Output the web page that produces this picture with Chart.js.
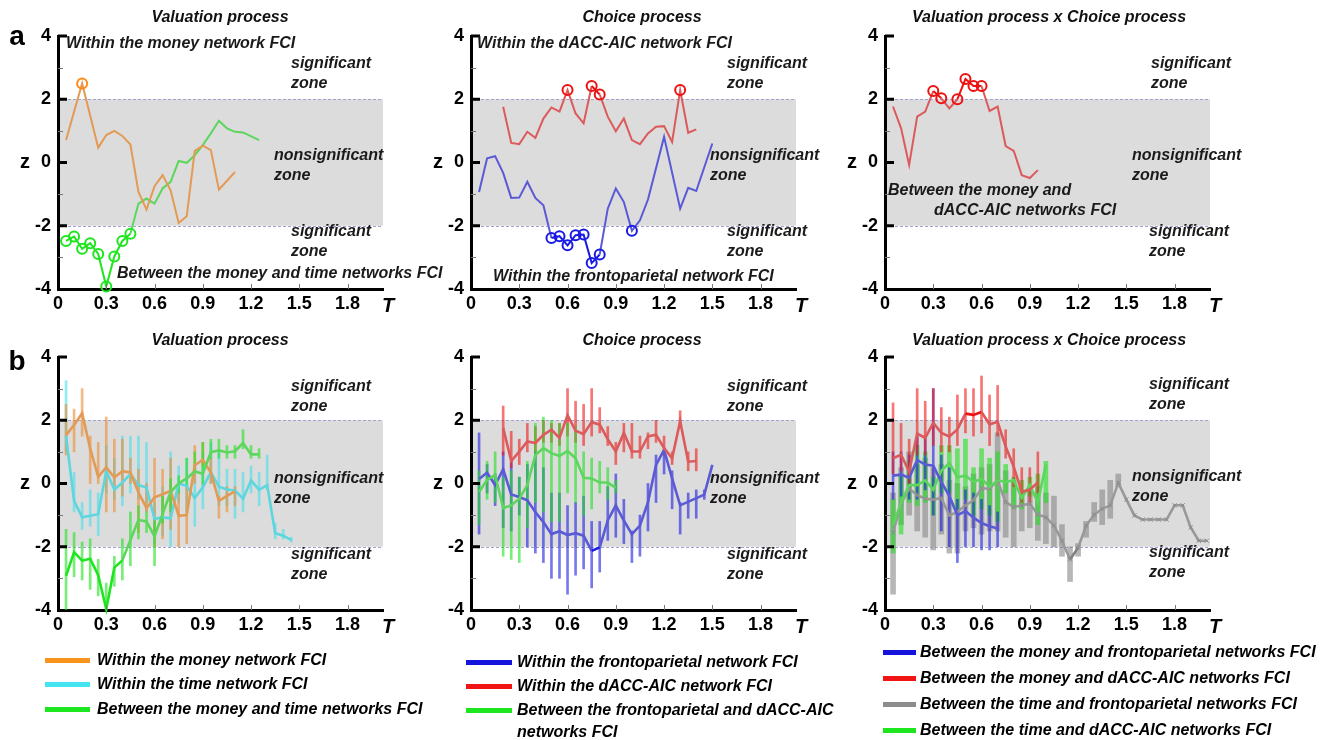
<!DOCTYPE html>
<html><head><meta charset="utf-8">
<script src="https://cdn.jsdelivr.net/npm/chart.js@4.4.1/dist/chart.umd.min.js"></script>
<style>
html,body{margin:0;padding:0;background:#fff}
body{width:1342px;height:740px;overflow:hidden;position:relative;font-family:"Liberation Sans",Arial,Helvetica,sans-serif}
canvas{position:absolute}
.lg{position:absolute;font:italic bold 16px "Liberation Sans",Arial,Helvetica,sans-serif;color:#000;white-space:nowrap;line-height:20px}
.sw{position:absolute;height:5px}
</style></head>
<body>
<canvas id="a1" width="480" height="329"></canvas>
<canvas id="a2" width="480" height="329"></canvas>
<canvas id="a3" width="480" height="329"></canvas>
<canvas id="b1" width="480" height="329"></canvas>
<canvas id="b2" width="480" height="329"></canvas>
<canvas id="b3" width="480" height="329"></canvas>

<div class="sw" style="left:45px;top:658px;width:45px;background:#f7941d"></div>
<div class="lg" style="left:97px;top:650px">Within the money network FCI</div>
<div class="sw" style="left:45px;top:682px;width:45px;background:#44e4f0"></div>
<div class="lg" style="left:97px;top:674px">Within the time network FCI</div>
<div class="sw" style="left:45px;top:707px;width:45px;background:#1ee61e"></div>
<div class="lg" style="left:97px;top:699px">Between the money and time networks FCI</div>

<div class="sw" style="left:466px;top:660px;width:46px;background:#1414dc"></div>
<div class="lg" style="left:517px;top:652px">Within the frontoparietal network FCI</div>
<div class="sw" style="left:466px;top:684px;width:46px;background:#f01414"></div>
<div class="lg" style="left:517px;top:676px">Within the dACC-AIC network FCI</div>
<div class="sw" style="left:466px;top:708px;width:46px;background:#1ee61e"></div>
<div class="lg" style="left:517px;top:700px">Between the frontoparietal and dACC-AIC</div>
<div class="lg" style="left:517px;top:722px">networks FCI</div>

<div class="sw" style="left:883px;top:650px;width:33px;background:#1414dc"></div>
<div class="lg" style="left:920px;top:642px">Between the money and frontoparietal networks FCI</div>
<div class="sw" style="left:883px;top:676px;width:33px;background:#f01414"></div>
<div class="lg" style="left:920px;top:668px">Between the money and dACC-AIC networks FCI</div>
<div class="sw" style="left:883px;top:702px;width:33px;background:#8c8c8c"></div>
<div class="lg" style="left:920px;top:694px">Between the time and frontoparietal networks FCI</div>
<div class="sw" style="left:883px;top:728px;width:33px;background:#1ee61e"></div>
<div class="lg" style="left:920px;top:720px">Between the time and dACC-AIC networks FCI</div>

<script>
// ---------- axis ticks ----------
const X_TICKS = [0, 0.3, 0.6, 0.9, 1.2, 1.5, 1.8];
const X_TICK_LABELS = ['0', '0.3', '0.6', '0.9', '1.2', '1.5', '1.8'];
const Y_TICKS = [-4, -2, 0, 2, 4];
const Y_TICK_LABELS = ['-4', '-2', '0', '2', '4'];
const X_MAX = 2.02;
const SIG = 1.96;

// ---------- row a, panel 1 (Valuation process) ----------
const a1T_money = [0.05,0.15,0.25,0.30,0.35,0.40,0.45,0.50,0.55,0.60,0.65,0.70,0.75,0.80,0.85,0.90,0.95,1.00,1.10];
const a1Z_money = [0.71,2.50,0.47,0.87,1.00,0.84,0.57,-0.93,-1.49,-0.75,-0.40,-0.88,-1.91,-1.70,0.37,0.53,0.39,-0.86,-0.30];
const a1T_moneyTime = [0.05,0.10,0.15,0.20,0.25,0.30,0.35,0.40,0.45,0.50,0.55,0.60,0.65,0.70,0.75,0.80,0.85,0.90,0.95,1.00,1.05,1.10,1.15,1.25];
const a1Z_moneyTime = [-2.48,-2.34,-2.73,-2.55,-2.89,-3.92,-2.97,-2.48,-2.25,-1.30,-1.14,-1.30,-0.82,-0.61,0.05,-0.01,0.23,0.55,0.92,1.32,1.08,0.97,0.95,0.71];

// ---------- row a, panel 2 (Choice process) ----------
const a2T_dacc = [0.20,0.25,0.30,0.35,0.40,0.45,0.50,0.55,0.60,0.65,0.70,0.75,0.80,0.85,0.90,0.95,1.00,1.05,1.10,1.15,1.20,1.25,1.30,1.35,1.40];
const a2Z_dacc = [1.76,0.62,0.58,0.97,0.78,1.39,1.74,1.61,2.29,1.55,1.24,2.42,2.15,1.45,0.99,1.39,0.71,0.58,0.92,1.13,1.15,0.65,2.29,0.94,1.05];
const a2T_fp = [0.05,0.10,0.15,0.20,0.25,0.30,0.35,0.40,0.45,0.50,0.55,0.60,0.65,0.70,0.75,0.80,0.85,0.90,0.95,1.00,1.05,1.10,1.20,1.30,1.35,1.40,1.50];
const a2Z_fp = [-0.93,0.13,0.20,-0.33,-1.12,-1.11,-0.61,-1.12,-1.35,-2.39,-2.33,-2.62,-2.30,-2.28,-3.18,-2.91,-1.46,-0.82,-1.25,-2.16,-1.83,-1.17,0.81,-1.46,-0.80,-0.90,0.60];

// ---------- row a, panel 3 (Valuation x Choice) ----------
const a3T_moneyDacc = [0.05,0.10,0.15,0.20,0.25,0.30,0.35,0.40,0.45,0.50,0.55,0.60,0.65,0.70,0.75,0.80,0.85,0.90,0.95];
const a3Z_moneyDacc = [1.77,1.08,-0.08,1.45,1.61,2.26,2.03,1.71,2.00,2.64,2.42,2.42,1.63,1.77,0.52,0.37,-0.40,-0.49,-0.24];

// ---------- row b, panel 1 ----------
const b1T_money = [0.05,0.10,0.15,0.20,0.25,0.30,0.35,0.40,0.45,0.50,0.55,0.60,0.65,0.70,0.75,0.80,0.85,0.90,0.95,1.00,1.05,1.10];
const b1Z_money = [1.53,1.85,2.22,1.10,0.21,0.51,0.19,0.39,0.35,-0.28,-0.78,-0.44,-0.34,-0.23,-1.02,-1.00,0.58,0.75,0.35,-0.55,-0.39,-0.25];
const b1Lo_money = [0.9,1.0,1.5,0.0,0.0,-0.9,-0.9,-0.4,0.0,-1.55,-0.9,-2.0,-1.75,-1.45,-2.0,-1.9,0.0,0.55,0.0,-1.1,-0.9,-0.7];
const b1Hi_money = [2.5,2.35,3.0,1.5,1.3,2.1,1.4,1.4,0.8,0.45,0.0,0.8,0.45,0.8,-0.2,-0.1,1.2,1.3,0.8,-0.4,-0.1,-0.1];

const b1T_time = [0.05,0.10,0.15,0.20,0.25,0.30,0.35,0.40,0.45,0.50,0.55,0.60,0.65,0.70,0.75,0.80,0.85,0.90,0.95,1.00,1.05,1.10,1.15,1.20,1.25,1.30,1.35,1.40,1.45];
const b1Z_time = [1.50,-0.55,-1.07,-1.02,-0.97,0.40,-0.19,0.03,0.30,-0.05,-0.13,-1.12,-1.07,-1.10,0.00,-0.08,-0.46,-0.12,0.36,-0.10,-0.19,-0.22,-0.48,0.10,-0.20,-0.05,-1.57,-1.65,-1.79];
const b1Lo_time = [1.0,-0.9,-1.45,-1.35,-1.65,-0.3,-0.5,-0.7,-0.3,-0.5,-0.9,-1.9,-1.65,-2.0,-0.6,-0.9,-1.35,-0.8,0.0,-0.7,-0.7,-1.1,-0.9,-0.3,-0.7,-0.2,-1.75,-1.75,-1.85];
const b1Hi_time = [3.25,0.35,-0.6,-0.2,-0.3,1.2,0.8,1.5,1.5,1.5,1.3,-0.6,-0.1,1.0,0.55,0.8,0.55,1.0,1.3,1.0,0.45,0.45,0.35,0.55,0.35,0.9,-1.25,-1.45,-1.7];

const b1T_moneyTime = [0.05,0.10,0.15,0.20,0.25,0.30,0.35,0.40,0.45,0.50,0.55,0.60,0.65,0.70,0.75,0.80,0.85,0.90,0.95,1.00,1.05,1.10,1.15,1.20,1.25];
const b1Z_moneyTime = [-2.92,-2.17,-2.44,-2.38,-2.90,-3.97,-2.66,-2.43,-1.79,-1.15,-1.20,-1.67,-0.97,-0.27,0.00,0.16,0.38,0.31,0.99,1.05,0.98,1.02,1.28,0.92,0.92];
const b1Lo_moneyTime = [-4.0,-2.95,-3.05,-3.35,-3.55,-4.0,-3.25,-3.05,-2.6,-1.75,-1.55,-2.6,-1.25,-0.9,-0.3,-0.05,0.35,-0.05,0.8,0.8,0.8,0.8,1.1,0.8,0.8];
const b1Hi_moneyTime = [-1.45,-1.55,-1.85,-1.75,-2.4,-3.15,-2.3,-1.75,-0.9,-0.7,-0.9,-1.1,-0.4,0.15,0.25,0.8,1.0,1.3,1.4,1.4,1.2,1.2,1.7,1.2,1.1];

// ---------- row b, panel 2 ----------
const b2T_dacc = [0.20,0.25,0.30,0.35,0.40,0.45,0.50,0.55,0.60,0.65,0.70,0.75,0.80,0.85,0.90,0.95,1.00,1.05,1.10,1.15,1.20,1.25,1.30,1.35,1.40];
const b2Z_dacc = [1.76,0.71,1.01,1.33,1.28,1.54,1.70,1.44,2.16,1.67,1.56,1.94,1.86,1.40,1.01,1.60,1.01,1.01,1.49,1.54,1.12,0.80,1.97,0.69,0.71];
const b2Lo_dacc = [0.9,0.5,0.6,1.0,1.0,1.3,1.3,1.2,1.5,1.3,1.2,1.5,1.6,1.2,0.6,1.0,0.8,0.8,1.1,1.3,0.9,0.6,1.8,0.4,0.4];
const b2Hi_dacc = [2.45,1.65,1.4,1.9,1.8,2.0,1.9,1.9,3.0,2.6,2.5,3.0,2.4,1.8,1.3,1.9,1.9,1.5,1.6,2.0,1.5,1.0,2.3,1.0,1.1];

const b2T_fp = [0.05,0.10,0.15,0.20,0.25,0.30,0.35,0.40,0.45,0.50,0.55,0.60,0.65,0.70,0.75,0.80,0.85,0.90,0.95,1.00,1.05,1.10,1.15,1.20,1.25,1.30,1.45,1.50];
const b2Z_fp = [0.14,0.34,-0.05,0.45,-0.35,-0.43,-0.53,-0.90,-1.22,-1.60,-1.51,-1.63,-1.57,-1.65,-2.13,-2.02,-1.17,-0.69,-1.17,-1.60,-1.33,-0.59,0.59,1.06,0.16,-0.69,-0.35,0.59];
const b2TR_fp = [0.05,0.10,0.15,0.20,0.25,0.30,0.35,0.40,0.45,0.50,0.55,0.60,0.65,0.70,0.75,0.80,0.85,0.90,0.95,1.00,1.05,1.10,1.15,1.20,1.25,1.30,1.35,1.40,1.45];
const b2Lo_fp = [-1.6,-0.3,-0.7,-1.4,-1.5,-1.0,-2.0,-2.2,-2.5,-3.0,-3.0,-3.5,-2.9,-2.7,-3.3,-2.8,-1.8,-1.7,-1.9,-2.5,-2.3,-1.5,-0.6,0.3,-0.8,-1.6,-1.1,-1.1,-0.5];
const b2Hi_fp = [1.6,0.6,0.3,1.0,0.7,0.2,0.6,1.0,0.5,-0.3,-0.3,-0.7,-0.6,-0.4,-1.2,-1.2,-0.1,0.3,-0.5,-1.5,-1.0,0.0,0.9,1.0,0.4,-0.6,-0.3,-0.2,-0.2];

const b2T_fpDacc = [0.05,0.10,0.15,0.20,0.25,0.30,0.35,0.40,0.45,0.50,0.55,0.60,0.65,0.70,0.75,0.80,0.85,0.90];
const b2Z_fpDacc = [-0.27,0.11,0.27,-0.78,-0.69,-0.48,-0.05,0.90,1.12,0.96,0.87,1.03,0.80,0.18,0.16,0.03,0.03,-0.14];
const b2Lo_fpDacc = [-1.3,-0.5,-0.6,-2.3,-2.4,-2.5,-1.4,-0.6,-0.9,-1.2,-1.2,-0.3,-0.6,-1.0,-0.8,-0.3,-0.5,-0.3];
const b2Hi_fpDacc = [0.4,0.7,1.0,0.2,0.4,0.2,0.7,1.9,2.1,2.0,1.9,1.9,1.8,1.0,0.8,0.7,0.5,0.1];

// ---------- row b, panel 3 ----------
const b3T_moneyFp = [0.05,0.10,0.15,0.20,0.25,0.30,0.35,0.40,0.45,0.50,0.55,0.60,0.65,0.70];
const b3Z_moneyFp = [0.25,0.28,0.18,0.74,0.60,0.56,0.05,-0.40,-1.00,-0.87,-1.08,-1.25,-1.35,-1.42];
const b3Lo_moneyFp = [-0.5,-0.4,-0.5,-0.5,-0.2,-1.0,-1.5,-2.0,-2.5,-2.0,-2.0,-2.1,-2.1,-2.0];
const b3Hi_moneyFp = [1.0,1.0,0.9,1.5,1.5,3.0,0.9,0.5,-0.5,-0.2,-0.3,-0.5,-0.7,-0.9];

const b3T_moneyDacc = [0.05,0.10,0.15,0.20,0.25,0.30,0.35,0.40,0.45,0.50,0.55,0.60,0.65,0.70,0.75,0.80,0.85,0.90,0.95];
const b3Z_moneyDacc = [0.80,0.91,0.37,1.58,1.44,1.92,1.60,1.49,1.71,2.21,2.17,2.26,1.87,1.95,1.17,0.53,-0.27,-0.19,0.03];
const b3Lo_moneyDacc = [0.3,0.4,0.0,0.9,0.9,1.2,1.0,1.0,1.2,1.6,1.5,1.6,1.2,1.5,0.8,-0.1,-0.6,-0.6,-0.3];
const b3Hi_moneyDacc = [2.55,1.9,1.4,3.0,2.6,3.0,2.4,2.1,2.8,3.0,3.0,3.4,2.8,3.1,1.7,1.1,0.5,0.5,1.0];

const b3T_timeFp = [0.05,0.10,0.15,0.20,0.25,0.30,0.35,0.40,0.45,0.50,0.55,0.60,0.65,0.70,0.75,0.80,0.85,0.90,0.95,1.00,1.05,1.10,1.15,1.20,1.25,1.30,1.35,1.40,1.45,1.50,1.55,1.60,1.65,1.70,1.75,1.80,1.85,1.90,1.95,2.00];
const b3Z_timeFp = [-1.55,-0.64,-0.16,-0.37,-0.48,-0.51,-0.46,-1.01,-0.90,-0.69,-0.53,-0.16,-0.16,0.09,-0.59,-0.75,-0.69,-0.64,-0.98,-1.07,-1.33,-1.81,-2.40,-2.03,-1.33,-0.99,-0.80,-0.69,0.02,-0.51,-1.01,-1.14,-1.14,-1.14,-1.14,-0.69,-0.69,-1.39,-1.81,-1.81];
const b3TR_timeFp = [0.05,0.10,0.15,0.20,0.25,0.30,0.35,0.40,0.45,0.50,0.55,0.60,0.65,0.70,0.75,0.80,0.85,0.90,0.95,1.00,1.05,1.10,1.15,1.20,1.25,1.30,1.35,1.40,1.45];
const b3Lo_timeFp = [-3.5,-1.3,-1.0,-1.5,-1.7,-2.1,-1.6,-2.2,-2.2,-1.5,-1.4,-1.6,-1.5,-1.5,-1.7,-2.0,-1.5,-1.4,-1.8,-1.9,-2.0,-2.3,-3.1,-2.3,-1.7,-1.2,-1.3,-1.1,-0.1];
const b3Hi_timeFp = [-0.3,0.5,1.0,0.6,0.8,0.5,0.6,0.1,0.0,-0.1,0.3,0.5,0.6,1.6,0.4,0.1,-0.2,-0.1,-0.1,-0.3,-0.4,-1.3,-2.0,-1.9,-1.2,-0.6,-0.2,0.1,0.3];

const b3T_timeDacc = [0.05,0.10,0.15,0.20,0.25,0.30,0.35,0.40,0.45,0.50,0.55,0.60,0.65,0.70,0.75,0.80,0.85,0.90,0.95,1.00];
const b3Z_timeDacc = [-1.30,-0.60,-0.05,-0.05,0.10,-0.20,0.40,0.65,0.20,0.25,0.05,0.15,-0.10,0.10,0.05,0.10,-0.45,-0.05,-0.60,0.60];
const b3Lo_timeDacc = [-2.2,-1.6,-0.6,-0.7,-0.6,-1.0,-0.3,-0.3,-0.8,-0.5,-1.0,-0.8,-1.0,-1.2,-0.3,-0.8,-0.8,-0.4,-1.3,-0.6];
const b3Hi_timeDacc = [-0.5,0.3,0.7,1.2,1.0,0.2,1.2,1.2,1.1,1.4,0.5,1.1,0.8,1.0,0.6,0.2,0.1,0.2,0.3,0.7];

// ---------- helpers ----------
const FONT = '"Liberation Sans", Arial, Helvetica, sans-serif';
const pts = (ts, zs) => ts.map((t, i) => ({x: t, y: zs[i]}));
const isSig = v => Math.abs(v) >= SIG;

function sigLine(ts, zs, lineColor, markColor, width) {
  return {
    type: 'line', data: pts(ts, zs), borderColor: lineColor, borderWidth: width, tension: 0,
    pointRadius: c => (c.raw && isSig(c.raw.y)) ? 5 : 0,
    pointBorderWidth: 2, pointBorderColor: markColor, pointBackgroundColor: 'rgba(0,0,0,0)',
    segment: { borderColor: c => (isSig(c.p0.parsed.y) && isSig(c.p1.parsed.y)) ? markColor : undefined },
    clip: false, order: 0
  };
}
function meanLine(ts, zs, lineColor, markColor, extra) {
  return Object.assign({
    type: 'line', data: pts(ts, zs), borderColor: lineColor, borderWidth: 2.6, tension: 0, pointRadius: 0,
    segment: { borderColor: c => (isSig(c.p0.parsed.y) && isSig(c.p1.parsed.y)) ? markColor : undefined },
    clip: false, order: 0
  }, extra || {});
}
function rangeBars(ts, lo, hi, color, thick, order) {
  return {
    type: 'bar', data: ts.map((t, i) => ({x: t, y: [lo[i], hi[i]]})),
    backgroundColor: color, borderWidth: 0, barThickness: thick, grouped: false, order: order || 5
  };
}

function makeDeco(cfg) {
  return {
    id: 'deco',
    beforeDraw(chart) {
      const {ctx, chartArea: a, scales: {y}} = chart;
      const y1 = y.getPixelForValue(2), y2 = y.getPixelForValue(-2);
      ctx.save();
      ctx.fillStyle = '#dcdcdc';
      ctx.fillRect(a.left, y1, a.right - a.left, y2 - y1);
      ctx.strokeStyle = '#a2a2d2'; ctx.lineWidth = 1; ctx.setLineDash([3, 2]);
      [y1, y2].forEach(v => { ctx.beginPath(); ctx.moveTo(a.left, Math.round(v) + 0.5); ctx.lineTo(a.right, Math.round(v) + 0.5); ctx.stroke(); });
      ctx.restore();
    },
    afterDraw(chart) {
      const {ctx, chartArea: a, scales: {x, y}} = chart;
      ctx.save();
      ctx.strokeStyle = '#000'; ctx.lineWidth = 3;
      [4, 2, 0, -2].forEach(v => { const p = y.getPixelForValue(v); ctx.beginPath(); ctx.moveTo(a.left, p); ctx.lineTo(a.left + 9, p); ctx.stroke(); });
      ctx.strokeStyle = '#777'; ctx.lineWidth = 1;
      [3, 1, -1, -3].forEach(v => { const p = Math.round(y.getPixelForValue(v)) + 0.5; ctx.beginPath(); ctx.moveTo(a.left, p); ctx.lineTo(a.left + 5, p); ctx.stroke(); });
      X_TICKS.slice(1).forEach(v => { const p = Math.round(x.getPixelForValue(v)) + 0.5; ctx.beginPath(); ctx.moveTo(p, a.bottom); ctx.lineTo(p, a.bottom - 5); ctx.stroke(); });
      ctx.fillStyle = '#000'; ctx.textBaseline = 'middle';
      ctx.font = 'bold 20px ' + FONT; ctx.textAlign = 'center';
      ctx.fillText('z', a.left - 33, y.getPixelForValue(0));
      ctx.font = 'italic bold 20px ' + FONT;
      ctx.fillText('T', a.right + 5, a.bottom + 17);
      ctx.font = 'italic bold 16px ' + FONT;
      ctx.fillStyle = '#111';
      ctx.fillText(cfg.title, cfg.titleX - cfg.left, cfg.titleY - cfg.top);
      if (cfg.letter) {
        ctx.font = 'bold 28px ' + FONT; ctx.fillStyle = '#000';
        ctx.fillText(cfg.letter, cfg.letterX - cfg.left, cfg.letterY - cfg.top);
      }
      ctx.textAlign = 'left'; ctx.fillStyle = '#1a1a1a';
      ctx.font = 'italic bold 16px ' + FONT;
      cfg.notes.forEach(n => ctx.fillText(n[0], n[1] - cfg.left, n[2] - cfg.top));
      ctx.restore();
    }
  };
}

function panel(id, axisX, areaTop, datasets, cfg) {
  const cv = document.getElementById(id);
  const left = axisX - 58, top = areaTop - 36;
  cv.style.left = left + 'px'; cv.style.top = top + 'px';
  cfg.left = left; cfg.top = top;
  new Chart(cv, {
    type: 'line',
    data: { datasets },
    options: {
      responsive: false, animation: false, devicePixelRatio: 1, events: [],
      layout: { padding: { left: 0, top: 36, right: 97, bottom: 0 } },
      plugins: { legend: { display: false }, tooltip: { enabled: false }, title: { display: false } },
      scales: {
        x: {
          type: 'linear', min: 0, max: X_MAX, offset: false,
          grid: { display: false, drawTicks: false, offset: false },
          border: { display: true, color: '#000', width: 3 },
          afterBuildTicks: s => { s.ticks = X_TICKS.map(v => ({ value: v })); },
          afterFit: s => { s.height = 40; },
          ticks: { autoSkip: false, maxRotation: 0, padding: 4, color: '#000',
                   font: { family: FONT, size: 18, weight: 'bold' },
                   callback: (v, i) => X_TICK_LABELS[i] }
        },
        y: {
          type: 'linear', min: -4, max: 4, offset: false,
          grid: { display: false, drawTicks: false },
          border: { display: true, color: '#000', width: 3 },
          afterBuildTicks: s => { s.ticks = Y_TICKS.map(v => ({ value: v })); },
          afterFit: s => { s.width = 58; },
          ticks: { autoSkip: false, padding: 7, color: '#000',
                   font: { family: FONT, size: 18, weight: 'bold' },
                   callback: (v, i) => Y_TICK_LABELS[i] }
        }
      }
    },
    plugins: [makeDeco(cfg)]
  });
}

const C = {
  orangeLine: '#e39a55', orangeMark: '#ff8c1a', orangeDots: 'rgba(236,140,50,0.6)',
  cyanLine: '#5dd6de', cyanDots: 'rgba(70,222,235,0.6)',
  greenLine: '#5cd65c', greenMark: '#1ee61e', greenDots: 'rgba(30,225,30,0.6)',
  redLine: '#dc5a5c', redMark: '#ee1111', redDots: 'rgba(240,25,25,0.6)',
  blueLine: '#5a5ad6', blueMark: '#1a1ae6', blueDots: 'rgba(30,30,225,0.6)',
  grayLine: '#999999', grayDots: 'rgba(135,135,135,0.6)'
};

panel('a1', 58, 36, [
  sigLine(a1T_money, a1Z_money, C.orangeLine, C.orangeMark, 2),
  sigLine(a1T_moneyTime, a1Z_moneyTime, C.greenLine, C.greenMark, 2)
], { title: 'Valuation process', titleX: 220, titleY: 18, letter: 'a', letterX: 17, letterY: 37,
  notes: [['Within the money network FCI', 66, 44], ['significant', 291, 64], ['zone', 291, 84],
          ['nonsignificant', 274, 156], ['zone', 274, 176], ['significant', 291, 232], ['zone', 291, 252],
          ['Between the money and time networks FCI', 117, 274]] });

panel('a2', 471, 36, [
  sigLine(a2T_dacc, a2Z_dacc, C.redLine, C.redMark, 2),
  sigLine(a2T_fp, a2Z_fp, C.blueLine, C.blueMark, 2)
], { title: 'Choice process', titleX: 642, titleY: 18,
  notes: [['Within the dACC-AIC network FCI', 477, 44], ['significant', 727, 64], ['zone', 727, 84],
          ['nonsignificant', 710, 156], ['zone', 710, 176], ['significant', 727, 232], ['zone', 727, 252],
          ['Within the frontoparietal network FCI', 493, 277]] });

panel('a3', 885, 36, [
  sigLine(a3T_moneyDacc, a3Z_moneyDacc, C.redLine, C.redMark, 2)
], { title: 'Valuation process x Choice process', titleX: 1049, titleY: 18,
  notes: [['significant', 1151, 64], ['zone', 1151, 84], ['nonsignificant', 1132, 156], ['zone', 1132, 176],
          ['significant', 1149, 232], ['zone', 1149, 252],
          ['Between the money and', 888, 191], ['dACC-AIC networks FCI', 934, 211]] });

panel('b1', 58, 357, [
  rangeBars(b1T_money, b1Lo_money, b1Hi_money, C.orangeDots, 2, 5),
  rangeBars(b1T_time, b1Lo_time, b1Hi_time, C.cyanDots, 2, 6),
  rangeBars(b1T_moneyTime, b1Lo_moneyTime, b1Hi_moneyTime, C.greenDots, 2, 4),
  meanLine(b1T_moneyTime, b1Z_moneyTime, C.greenLine, C.greenMark),
  meanLine(b1T_money, b1Z_money, C.orangeLine, C.orangeMark),
  meanLine(b1T_time, b1Z_time, C.cyanLine, '#30e0ea')
], { title: 'Valuation process', titleX: 220, titleY: 341, letter: 'b', letterX: 17, letterY: 362,
  notes: [['significant', 291, 387], ['zone', 291, 407], ['nonsignificant', 274, 479], ['zone', 274, 499],
          ['significant', 291, 555], ['zone', 291, 575]] });

panel('b2', 471, 357, [
  rangeBars(b2T_dacc, b2Lo_dacc, b2Hi_dacc, C.redDots, 2, 5),
  rangeBars(b2TR_fp, b2Lo_fp, b2Hi_fp, C.blueDots, 2, 6),
  rangeBars(b2T_fpDacc, b2Lo_fpDacc, b2Hi_fpDacc, C.greenDots, 2, 4),
  meanLine(b2T_dacc, b2Z_dacc, C.redLine, C.redMark),
  meanLine(b2T_fpDacc, b2Z_fpDacc, C.greenLine, C.greenMark),
  meanLine(b2T_fp, b2Z_fp, C.blueLine, C.blueMark)
], { title: 'Choice process', titleX: 642, titleY: 341,
  notes: [['significant', 727, 387], ['zone', 727, 407], ['nonsignificant', 710, 479], ['zone', 710, 499],
          ['significant', 727, 555], ['zone', 727, 575]] });

panel('b3', 885, 357, [
  rangeBars(b3TR_timeFp, b3Lo_timeFp, b3Hi_timeFp, C.grayDots, 5, 8),
  rangeBars(b3T_timeDacc, b3Lo_timeDacc, b3Hi_timeDacc, C.greenDots, 4, 7),
  rangeBars(b3T_moneyFp, b3Lo_moneyFp, b3Hi_moneyFp, C.blueDots, 2, 6),
  rangeBars(b3T_moneyDacc, b3Lo_moneyDacc, b3Hi_moneyDacc, C.redDots, 2, 5),
  meanLine(b3T_moneyDacc, b3Z_moneyDacc, C.redLine, C.redMark),
  meanLine(b3T_moneyFp, b3Z_moneyFp, C.blueLine, C.blueMark),
  meanLine(b3T_timeDacc, b3Z_timeDacc, C.greenLine, C.greenMark),
  meanLine(b3T_timeFp, b3Z_timeFp, C.grayLine, '#808080',
    { pointRadius: 3, pointStyle: 'crossRot', pointBorderColor: '#8a8a8a', pointBorderWidth: 1 })
], { title: 'Valuation process x Choice process', titleX: 1049, titleY: 341,
  notes: [['significant', 1149, 385], ['zone', 1149, 405], ['nonsignificant', 1132, 477], ['zone', 1132, 497],
          ['significant', 1149, 553], ['zone', 1149, 573]] });
</script>
</body></html>
